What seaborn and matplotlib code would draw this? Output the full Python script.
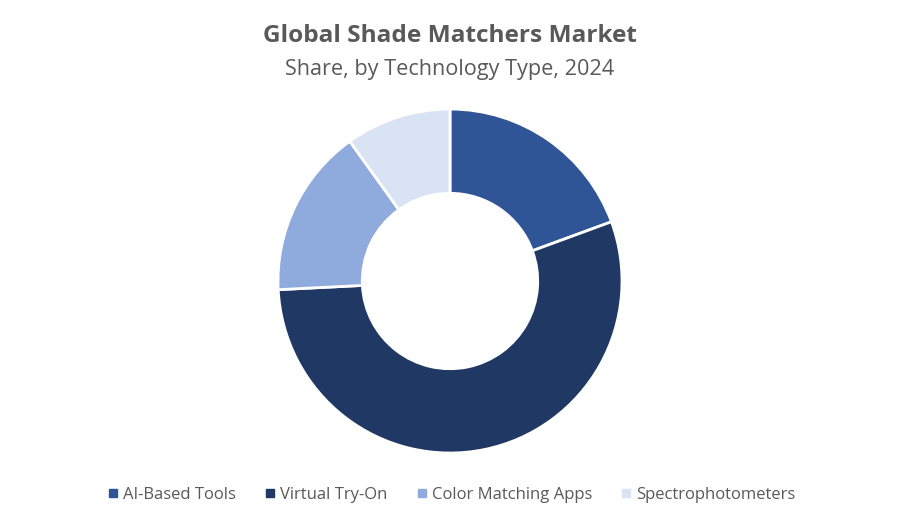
import matplotlib
matplotlib.use("Agg")
import matplotlib.pyplot as plt
import seaborn as sns
from matplotlib.lines import Line2D

categories = ["AI-Based Tools", "Virtual Try-On", "Color Matching Apps", "Spectrophotometers"]
shares = [19.4, 54.8, 15.9, 9.9]
colors = ["#2F5597", "#203864", "#8FAADC", "#DAE3F3"]
title = "Global Shade Matchers Market"
subtitle = "Share, by Technology Type, 2024"

sns.set_theme(style="white")
plt.rcParams['font.family'] = ['Open Sans', 'DejaVu Sans']

fig = plt.figure(figsize=(9, 5.25), dpi=100)
ax = fig.add_axes([0.3089, 0.1371, 0.3822, 0.6552])

wedges, _ = ax.pie(shares, colors=sns.color_palette(colors), startangle=90, counterclock=False,
                   wedgeprops=dict(width=0.49, edgecolor="white", linewidth=2))
ax.set_aspect("equal")
ax.set_xlim(-1, 1)
ax.set_ylim(-1, 1)
ax.axis("off")

fig.text(0.5, 1 - 36/525, title, ha="center", va="center", fontsize=17.6, fontweight="bold", color="#595959")
fig.text(0.5, 1 - 69/525, subtitle, ha="center", va="center", fontsize=15.6, color="#595959")

handles = [Line2D([0], [0], marker="s", linestyle="none", markersize=6,
                  markerfacecolor=c, markeredgecolor=c) for c in colors]
leg = fig.legend(handles, categories, loc="center", bbox_to_anchor=(0.5, 1 - 495/525), ncol=4,
                 frameon=False, fontsize=12, handletextpad=0.1, columnspacing=1.55, handlelength=1.0)
for t in leg.get_texts():
    t.set_color("#595959")

fig.savefig("out.png", dpi=100)
